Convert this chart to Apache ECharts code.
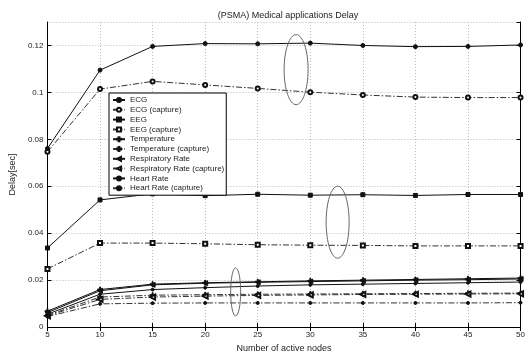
<!DOCTYPE html>
<html>
<head>
<meta charset="utf-8">
<script src="https://cdn.jsdelivr.net/npm/echarts@6/dist/echarts.min.js"></script>
<style>
  html, body { margin: 0; padding: 0; background: #fff; }
  #chart { width: 528px; height: 358px; }
</style>
</head>
<body>
<div id="chart"></div>
<script>
// 数据
var nodes = [5, 10, 15, 20, 25, 30, 35, 40, 45, 50];
var ecg = [0.0761, 0.1095, 0.1196, 0.1208, 0.1207, 0.1210, 0.1200, 0.1195, 0.1196, 0.1202];
var ecgCap = [0.0747, 0.1014, 0.1047, 0.1032, 0.1017, 0.1001, 0.0989, 0.0980, 0.0978, 0.0978];
var eeg = [0.0337, 0.0542, 0.0568, 0.0560, 0.0566, 0.0562, 0.0564, 0.0561, 0.0565, 0.0565];
var eegCap = [0.0248, 0.0358, 0.0358, 0.0355, 0.0351, 0.0349, 0.0348, 0.0346, 0.0346, 0.0346];
var temp = [0.0068, 0.0160, 0.0183, 0.0189, 0.0193, 0.0197, 0.0200, 0.0203, 0.0206, 0.0209];
var tempCap = [0.0050, 0.0128, 0.0136, 0.0138, 0.0140, 0.0141, 0.0142, 0.0143, 0.0144, 0.0145];
var resp = [0.0062, 0.0155, 0.0180, 0.0187, 0.0191, 0.0194, 0.0197, 0.0200, 0.0202, 0.0205];
var respCap = [0.0048, 0.0118, 0.0128, 0.0132, 0.0135, 0.0137, 0.0139, 0.0140, 0.0141, 0.0142];
var heart = [0.0055, 0.0140, 0.0160, 0.0168, 0.0175, 0.0180, 0.0183, 0.0186, 0.0189, 0.0192];
var heartCap = [0.0045, 0.0099, 0.0102, 0.0103, 0.0103, 0.0103, 0.0103, 0.0103, 0.0103, 0.0104];
var names = ['ECG', 'ECG (capture)', 'EEG', 'EEG (capture)', 'Temperature', 'Temperature (capture)',
  'Respiratory Rate', 'Respiratory Rate (capture)', 'Heart Rate', 'Heart Rate (capture)'];
// 椭圆标注 [x, y, rx, ry]
var ellipses = [[28.65, 0.1097, 12, 35], [32.6, 0.0447, 11.5, 36], [22.9, 0.0150, 5, 24]];

var FONT = 'Liberation Sans';
var plus = 'path://M4,0H6V4H10V6H6V10H4V6H0V4H4Z';
var dashDot = [6, 2, 1.5, 2];

function pairs(vals) {
  return nodes.map(function (n, i) { return [n, vals[i]]; });
}

function line(name, vals, symbol, size, dashed, extra) {
  var s = {
    name: name,
    type: 'line',
    data: pairs(vals),
    symbol: symbol,
    symbolSize: size,
    lineStyle: { color: dashed ? '#333' : '#111', width: 1, type: dashed ? dashDot : 'solid' },
    itemStyle: { color: '#111', borderColor: '#111', borderWidth: 1 },
    emphasis: { disabled: true },
    z: dashed ? 2 : 3
  };
  for (var k in extra) s[k] = extra[k];
  return s;
}

var myChart = echarts.init(document.getElementById('chart'));

var option = {
  backgroundColor: '#fff',
  animation: false,
  textStyle: { fontFamily: FONT },
  title: {
    text: '(PSMA) Medical applications Delay',
    left: 283,
    textAlign: 'center',
    top: 6,
    textStyle: { fontSize: 9, fontWeight: 'normal', color: '#222', fontFamily: FONT }
  },
  legend: {
    orient: 'vertical',
    left: 109,
    top: 93,
    data: names,
    padding: [3, 2, 3, 3],
    itemWidth: 12,
    itemHeight: 5,
    itemGap: 1.8,
    itemTextGap: 3,
    borderColor: '#000',
    borderWidth: 1,
    backgroundColor: '#fff',
    textStyle: { fontSize: 8, lineHeight: 8, color: '#222', fontFamily: FONT },
    z: 10
  },
  grid: { left: 45, right: 6, top: 22, bottom: 22.5 },
  xAxis: [{
    type: 'value',
    min: 5, max: 50, interval: 5,
    name: 'Number of active nodes',
    nameLocation: 'middle',
    nameGap: 15,
    nameTextStyle: { fontSize: 9, color: '#222' },
    axisLine: { lineStyle: { color: '#000', width: 1 } },
    axisTick: { inside: true, length: 4, lineStyle: { color: '#000' } },
    axisLabel: { fontSize: 8, color: '#222', margin: 4 },
    splitLine: { show: true, lineStyle: { color: '#bbb', type: [1, 2], width: 1 } }
  }, {
    type: 'value',
    position: 'top',
    min: 5, max: 50, interval: 5,
    axisLine: { lineStyle: { color: '#000', width: 1 } },
    axisTick: { inside: true, length: 4, lineStyle: { color: '#000' } },
    axisLabel: { show: false },
    splitLine: { show: false }
  }],
  yAxis: [{
    type: 'value',
    min: 0, max: 0.13, interval: 0.02,
    name: 'Delay[sec]',
    nameLocation: 'middle',
    nameGap: 22,
    nameTextStyle: { fontSize: 9, color: '#222' },
    axisLine: { show: true, lineStyle: { color: '#000', width: 1 } },
    axisTick: { show: true, inside: true, length: 4, lineStyle: { color: '#000' } },
    axisLabel: { fontSize: 8, color: '#222', margin: 4, showMaxLabel: false },
    splitLine: { show: true, lineStyle: { color: '#bbb', type: [1, 2], width: 1 } }
  }, {
    type: 'value',
    position: 'right',
    min: 0, max: 0.13, interval: 0.02,
    axisLine: { show: true, lineStyle: { color: '#000', width: 1 } },
    axisTick: { show: true, inside: true, length: 4, lineStyle: { color: '#000' } },
    axisLabel: { show: false },
    splitLine: { show: false }
  }],
  series: [
    line(names[0], ecg, 'circle', 4, false),
    line(names[1], ecgCap, 'emptyCircle', 4, true),
    line(names[2], eeg, 'rect', 4, false),
    line(names[3], eegCap, 'emptyRect', 4, true),
    line(names[4], temp, plus, 5, false),
    line(names[5], tempCap, plus, 5, true),
    line(names[6], resp, 'triangle', 5, false, { symbolRotate: 90 }),
    line(names[7], respCap, 'emptyTriangle', 5, true, { symbolRotate: 90 }),
    line(names[8], heart, 'circle', 3, false),
    line(names[9], heartCap, 'circle', 3, true)
  ]
};

myChart.setOption(option);

// 椭圆标注：用数据坐标换算成像素
var shapes = ellipses.map(function (e) {
  var p = myChart.convertToPixel({ gridIndex: 0 }, [e[0], e[1]]);
  return {
    type: 'ellipse',
    shape: { cx: p[0], cy: p[1], rx: e[2], ry: e[3] },
    style: { fill: 'none', stroke: '#666', lineWidth: 1 },
    z: 20
  };
});
myChart.setOption({ graphic: shapes });
</script>
</body>
</html>
